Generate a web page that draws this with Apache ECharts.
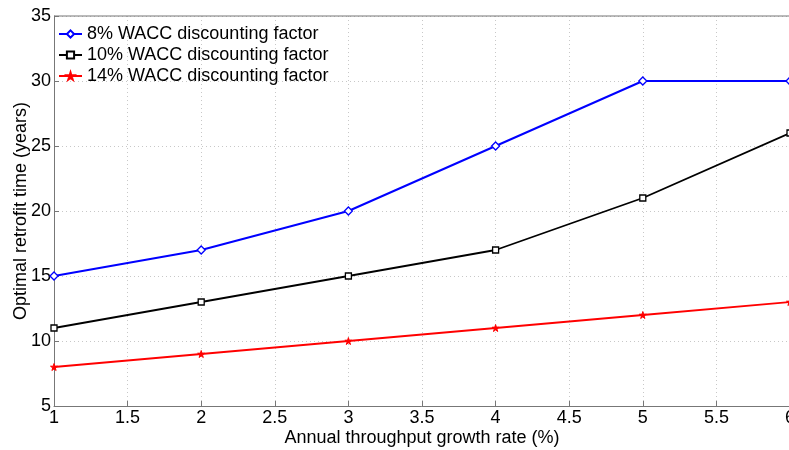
<!DOCTYPE html>
<html>
<head>
<meta charset="utf-8">
<script src="https://cdn.jsdelivr.net/npm/echarts@6/dist/echarts.min.js"></script>
<style>
  html, body { margin: 0; padding: 0; background: #fff; }
  #main { width: 789px; height: 450px; }
</style>
</head>
<body>
<div id="main"></div>
<script>
var growthRates = [1, 2, 3, 4, 5, 6];
var wacc8 = [15, 17, 20, 25, 30, 30];
var wacc10 = [11, 13, 15, 17, 21, 26];
var wacc14 = [8, 9, 10, 11, 12, 13];
var seriesNames = ['8% WACC discounting factor', '10% WACC discounting factor', '14% WACC discounting factor'];

function pairs(vals) {
  return growthRates.map(function (x, i) { return [x, vals[i]]; });
}

var myChart = echarts.init(document.getElementById('main'));

var font = 'Liberation Sans, Arial, sans-serif';

var option = {
  animation: false,
  textStyle: { fontFamily: font },
  grid: { left: 54, right: -1, top: 16, bottom: 44, containLabel: false, outerBoundsMode: 'none' },
  legend: {
    left: 53, top: 20, orient: 'vertical', itemGap: 3,
    itemWidth: 23, itemHeight: 9,
    textStyle: { fontSize: 18, color: '#000', fontFamily: font },
    data: seriesNames
  },
  xAxis: {
    type: 'value', min: 1, max: 6, interval: 0.5,
    name: 'Annual throughput growth rate (%)',
    nameLocation: 'middle', nameGap: 23, nameMoveOverlap: false,
    nameTextStyle: { fontSize: 18, color: '#000' },
    axisLine: { lineStyle: { color: '#777' } },
    axisTick: { inside: true, length: 5, lineStyle: { color: '#777' } },
    axisLabel: { fontSize: 18, color: '#000', margin: 3 },
    splitLine: { show: true, lineStyle: { color: '#c8c8c8', type: [1, 3] } }
  },
  yAxis: {
    type: 'value', min: 5, max: 35, interval: 5,
    name: 'Optimal retrofit time (years)',
    nameLocation: 'middle', nameGap: 24, nameMoveOverlap: false,
    nameTextStyle: { fontSize: 18, color: '#000' },
    axisLine: { show: true, lineStyle: { color: '#777' } },
    axisTick: { show: true, inside: true, length: 5, lineStyle: { color: '#777' } },
    axisLabel: { fontSize: 18, color: '#000', margin: 3 },
    splitLine: { show: true, lineStyle: { color: '#c8c8c8', type: [1, 3] } }
  },
  series: [
    {
      name: seriesNames[0], type: 'line', data: pairs(wacc8),
      symbol: 'diamond', symbolSize: 8,
      lineStyle: { color: '#0000ff', width: 2 },
      itemStyle: { color: '#fff', borderColor: '#0000ff', borderWidth: 1.3 }
    },
    {
      name: seriesNames[1], type: 'line', data: pairs(wacc10),
      symbol: 'rect', symbolSize: 6,
      lineStyle: { color: '#000', width: 1.8 },
      itemStyle: { color: '#fff', borderColor: '#000', borderWidth: 1.3 }
    },
    {
      name: seriesNames[2], type: 'line', data: pairs(wacc14),
      symbol: 'path://M50,0 L61,35 L98,35 L68,57 L79,91 L50,70 L21,91 L32,57 L2,35 L39,35 Z',
      symbolSize: 7,
      lineStyle: { color: '#ff0000', width: 1.8 },
      itemStyle: { color: '#ff0000', borderColor: '#ff0000', borderWidth: 1 }
    }
  ],
  graphic: [
    { type: 'line', z: 100, shape: { x1: 54, y1: 16, x2: 789, y2: 16 }, style: { stroke: '#777', lineWidth: 1.2 } }
  ]
};

myChart.setOption(option);
</script>
</body>
</html>
